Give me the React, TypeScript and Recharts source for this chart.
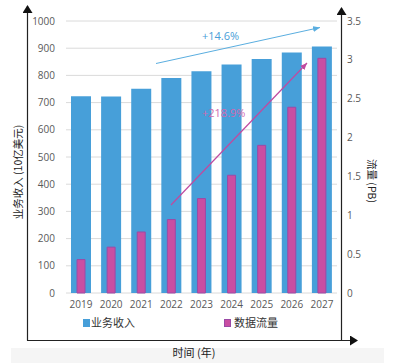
import React from 'react';
import { ComposedChart, Bar, XAxis, YAxis, CartesianGrid, Legend } from 'recharts';

const years = ['2019', '2020', '2021', '2022', '2023', '2024', '2025', '2026', '2027'];
const revenue = [723, 722, 751, 790, 815, 840, 860, 884, 906];
const traffic = [0.43, 0.59, 0.785, 0.945, 1.215, 1.515, 1.9, 2.39, 3.02];
const leftTicks = [0, 100, 200, 300, 400, 500, 600, 700, 800, 900, 1000];
const rightTicks = [0, 0.5, 1, 1.5, 2, 2.5, 3, 3.5];
const seriesNames = ['业务收入', '数据流量'];

const data = years.map((y, i) => ({ year: y, revenue: revenue[i], traffic: traffic[i] }));

const BLUE = '#479fd9';
const PINK = '#c94ea2';
const FONT = '"Open Sans", "Noto Sans CJK SC", sans-serif';
const CJK = '"Noto Sans CJK SC", sans-serif';

const LegendContent = () => (
  <div style={{ position: 'relative', width: 394, height: 20, fontFamily: CJK, fontSize: 11, color: '#333' }}>
    <div style={{ position: 'absolute', left: 83, top: 6, width: 7, height: 8, background: BLUE }} />
    <div style={{ position: 'absolute', left: 91, top: 1, lineHeight: '16px' }}>{seriesNames[0]}</div>
    <div style={{ position: 'absolute', left: 224, top: 6, width: 7, height: 8, background: PINK, boxSizing: 'border-box', border: '1px solid #9b4aa6' }} />
    <div style={{ position: 'absolute', left: 234, top: 1, lineHeight: '16px' }}>{seriesNames[1]}</div>
  </div>
);

export default function App() {
  return (
    <div style={{ position: 'absolute', left: 0, top: 0, width: 394, height: 363, background: '#fff' }}>
      <div style={{ position: 'absolute', left: 11, top: 348, width: 373, height: 15, background: '#f5f5f5' }} />
      <ComposedChart
        width={394}
        height={363}
        data={data}
        margin={{ top: 21, right: 0, bottom: 30, left: 0 }}
        style={{ position: 'absolute', left: 0, top: 0 }}
      >
        <CartesianGrid vertical={false} yAxisId="left" xAxisId="a" stroke="#dadada" />
        <XAxis
          xAxisId="a"
          dataKey="year"
          height={20}
          axisLine={false}
          tickLine={false}
          tick={{ fontSize: 10, fill: '#595959', fontFamily: FONT }}
        />
        <XAxis xAxisId="b" dataKey="year" hide />
        <YAxis
          yAxisId="left"
          width={66}
          domain={[0, 1000]}
          ticks={leftTicks}
          axisLine={false}
          tickLine={false}
          tickMargin={5}
          tick={{ fontSize: 10, fill: '#595959', fontFamily: FONT }}
        />
        <YAxis
          yAxisId="right"
          orientation="right"
          width={57}
          domain={[0, 3.5]}
          ticks={rightTicks}
          axisLine={false}
          tickLine={false}
          tickMargin={4}
          tick={{ fontSize: 10, fill: '#595959', fontFamily: FONT }}
        />
        <Legend verticalAlign="bottom" content={<LegendContent />} />
        <Bar
          name={seriesNames[0]}
          dataKey="revenue"
          xAxisId="a"
          yAxisId="left"
          barSize={20}
          fill={BLUE}
          isAnimationActive={false}
        />
        <Bar
          name={seriesNames[1]}
          dataKey="traffic"
          xAxisId="b"
          yAxisId="right"
          barSize={8}
          fill={PINK}
          stroke="#9b4aa6"
          strokeWidth={1}
          isAnimationActive={false}
        />
      </ComposedChart>
      <svg width={394} height={363} style={{ position: 'absolute', left: 0, top: 0, pointerEvents: 'none' }}>
        <defs>
          <marker id="blk" markerWidth="8" markerHeight="10" refX="7" refY="5" orient="auto" markerUnits="userSpaceOnUse">
            <path d="M0,0 L8,5 L0,10 z" fill="#111" />
          </marker>
          <marker id="blu" markerWidth="7" markerHeight="6" refX="7" refY="3" orient="auto" markerUnits="userSpaceOnUse">
            <path d="M0,0 L7,3 L0,6 z" fill="#5aaee0" />
          </marker>
          <marker id="pnk" markerWidth="7" markerHeight="6" refX="7" refY="3" orient="auto" markerUnits="userSpaceOnUse">
            <path d="M0,0 L7,3 L0,6 z" fill="#c04aa0" />
          </marker>
        </defs>
        {/* frame axes */}
        <line x1={27.5} y1={340.5} x2={27.5} y2={6} stroke="#222" strokeWidth={1.2} markerEnd="url(#blk)" />
        <line x1={27} y1={340.5} x2={357} y2={340.5} stroke="#222" strokeWidth={1.2} markerEnd="url(#blk)" />
        <line x1={341.5} y1={340.5} x2={341.5} y2={8} stroke="#222" strokeWidth={1.2} markerEnd="url(#blk)" />
        {/* annotations */}
        <line x1={156} y1={63.5} x2={320} y2={27.5} stroke="#5aaee0" strokeWidth={1} markerEnd="url(#blu)" />
        <text x={202} y={40} fontSize={11} fontFamily={FONT} fill="#4a9ed8">+14.6%</text>
        <line x1={171} y1={205} x2={307} y2={63} stroke="#c04aa0" strokeWidth={1.2} markerEnd="url(#pnk)" />
        <text x={202} y={117} fontSize={11} fontFamily={FONT} fill="#d06ab0">+218.9%</text>
        {/* axis titles */}
        <text transform="translate(22,172) rotate(-90)" textAnchor="middle" fontSize={10.5} fontFamily={CJK} fill="#222">业务收入 (10亿美元)</text>
        <text transform="translate(368,181) rotate(90)" textAnchor="middle" fontSize={10.5} fontFamily={CJK} fill="#222">流量 (PB)</text>
        <text x={194} y={357} textAnchor="middle" fontSize={11} fontFamily={CJK} fill="#222">时间 (年)</text>
      </svg>
    </div>
  );
}
